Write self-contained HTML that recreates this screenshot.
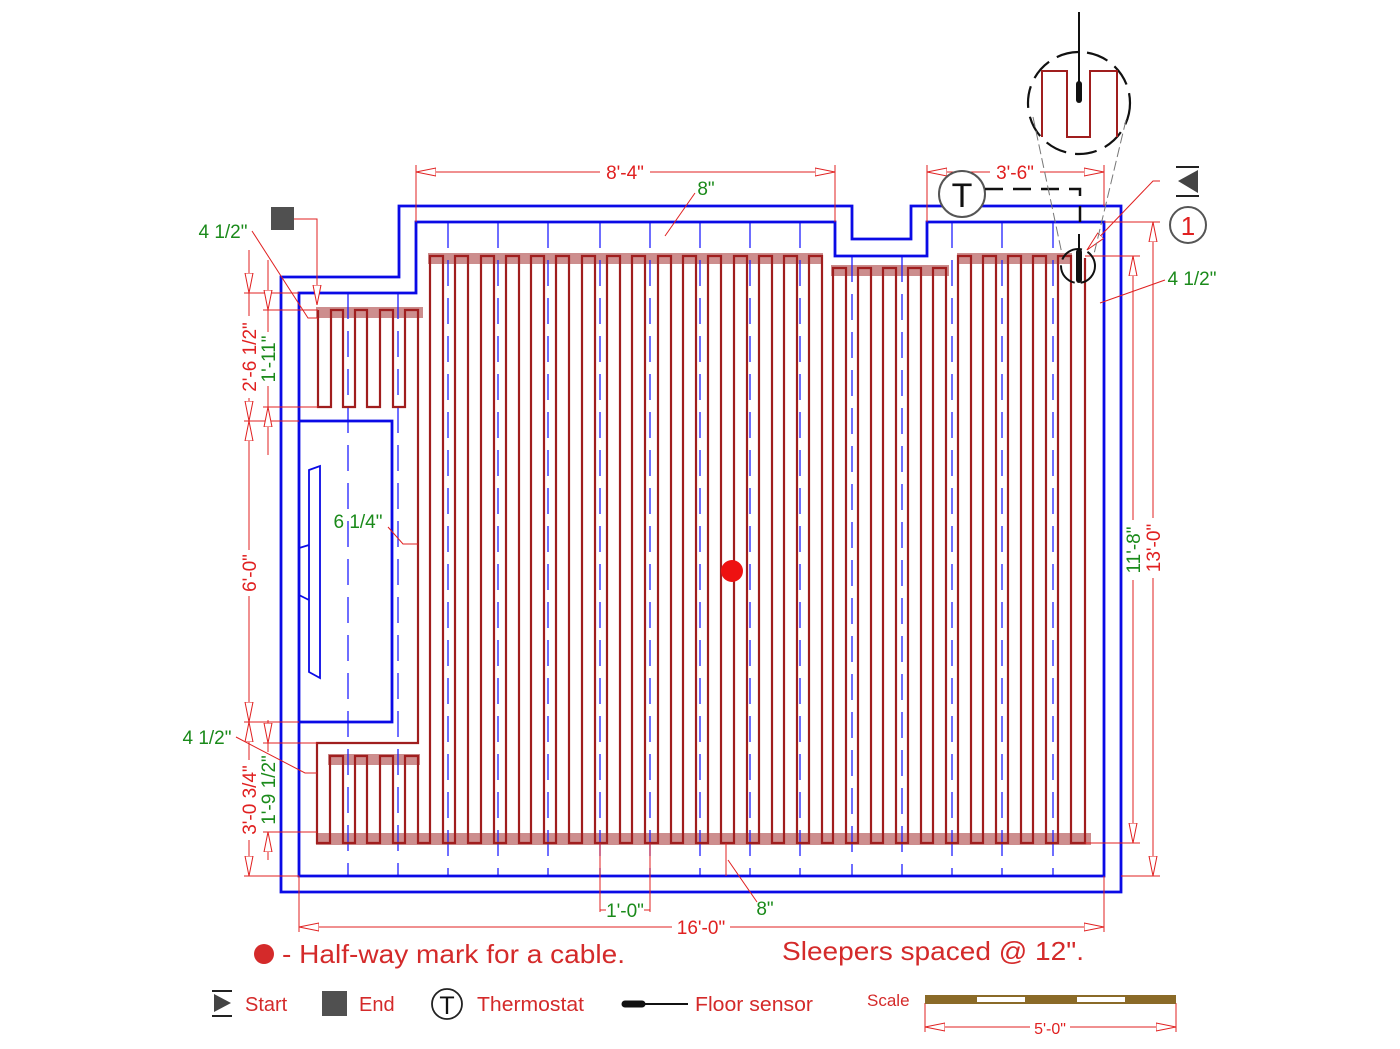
<!DOCTYPE html>
<html><head><meta charset="utf-8"><style>
html,body{margin:0;padding:0;background:#fff;}
svg{display:block;font-family:"Liberation Sans",Arial,sans-serif;}
</style></head><body>
<svg width="1400" height="1049" viewBox="0 0 1400 1049" xmlns="http://www.w3.org/2000/svg">
<defs>
<marker id="a" viewBox="0 0 20 10" refX="20" refY="5" markerWidth="20" markerHeight="10" markerUnits="userSpaceOnUse" orient="auto-start-reverse"><path d="M0,1 L20,5 L0,9 Z" fill="#fff" stroke="#e02020" stroke-width="1"/></marker>
</defs>
<g fill="#c47a7a" opacity="0.85">
<rect x="316" y="307" width="107" height="11"/>
<rect x="428" y="253" width="395" height="11"/>
<rect x="831" y="265" width="118" height="11"/>
<rect x="957" y="253" width="115" height="11"/>
<rect x="316" y="833" width="775" height="12"/>
<rect x="328" y="754" width="92" height="11"/>
</g>
<g stroke="#2020ff" stroke-width="1.3" fill="none">
<g stroke-dasharray="26 12">
<line x1="348" y1="293" x2="348" y2="876"/><line x1="398" y1="293" x2="398" y2="876"/>
<line x1="448" y1="222" x2="448" y2="876"/><line x1="498" y1="222" x2="498" y2="876"/>
<line x1="548" y1="222" x2="548" y2="876"/><line x1="600" y1="222" x2="600" y2="876"/>
<line x1="650" y1="222" x2="650" y2="876"/><line x1="700" y1="222" x2="700" y2="876"/>
<line x1="750" y1="222" x2="750" y2="876"/><line x1="800" y1="222" x2="800" y2="876"/>
<line x1="852" y1="256" x2="852" y2="876"/><line x1="902" y1="256" x2="902" y2="876"/>
<line x1="952" y1="222" x2="952" y2="876"/><line x1="1002" y1="222" x2="1002" y2="876"/>
<line x1="1053" y1="222" x2="1053" y2="876"/>
</g>
</g>
<g stroke="#0a0ae6" stroke-width="2.8" fill="none">
<path d="M281,277 H399 V206 H852 V239 H911 V206 H1121 V892 H281 Z"/>
<path d="M299,293 H416 V222 H835 V256 H927 V222 H1104 V876 H299 Z"/>
<path d="M299,421 H392 V722 H299"/>
<path d="M309,470 L320,466 L320,678 L309,672 Z M309,545 L299,548 L299,595 L309,600" stroke-width="1.8"/>
</g>
<path fill="none" stroke="#a01e1e" stroke-width="2.2" d="M318,310 V407 H331 V310 H343 V407 H355 V310 H367 V407 H380 V310 H393 V407 H405 V310 H418 V743 H317 V843 H330 V756 H343 V843 H355 V756 H367 V843 H380 V756 H393 V843 H405 V756 H418 V843 H430
V256 H443 V843 H455 V256 H468 V843 H481 V256 H494 V843 H506 V256 H519 V843 H531 V256 H544 V843 H556 V256 H569 V843 H582 V256 H595 V843 H607 V256 H620 V843 H632 V256 H645 V843 H658 V256 H671 V843 H683 V256 H696 V843 H708 V256 H721 V843 H734 V256 H747 V843 H759 V256 H772 V843 H784 V256 H797 V843 H809 V256 H822 V843
H833 V268 H846 V843 H858 V268 H871 V843 H883 V268 H896 V843 H908 V268 H921 V843 H933 V268 H946 V843
H958 V256 H971 V843 H983 V256 H996 V843 H1008 V256 H1021 V843 H1033 V256 H1046 V843 H1058 V256 H1071 V843 H1085 V258"/>
<g stroke="#e02020" stroke-width="1" fill="none">
<line x1="416" y1="165" x2="416" y2="222"/><line x1="835" y1="165" x2="835" y2="222"/>
<line x1="416" y1="172" x2="600" y2="172" marker-start="url(#a)"/><line x1="650" y1="172" x2="835" y2="172" marker-end="url(#a)"/>
<line x1="927" y1="165" x2="927" y2="222"/><line x1="1104" y1="165" x2="1104" y2="206"/>
<line x1="927" y1="172" x2="990" y2="172" marker-start="url(#a)"/><line x1="1040" y1="172" x2="1104" y2="172" marker-end="url(#a)"/>
<line x1="665" y1="236" x2="695" y2="193"/>
<line x1="1085" y1="256" x2="1140" y2="256"/><line x1="1085" y1="843" x2="1140" y2="843"/>
<line x1="1104" y1="222" x2="1160" y2="222"/><line x1="1121" y1="876" x2="1160" y2="876"/>
<line x1="1133" y1="256" x2="1133" y2="520" marker-start="url(#a)"/><line x1="1133" y1="580" x2="1133" y2="843" marker-end="url(#a)"/>
<line x1="1153" y1="222" x2="1153" y2="518" marker-start="url(#a)"/><line x1="1153" y1="578" x2="1153" y2="876" marker-end="url(#a)"/>
<path d="M1100,303 L1165,280"/>
<path d="M1160,181 H1153 L1087,250" marker-end="url(#a)"/>
<line x1="244" y1="293" x2="299" y2="293"/><line x1="244" y1="421" x2="299" y2="421"/>
<line x1="244" y1="722" x2="299" y2="722"/><line x1="244" y1="876" x2="299" y2="876"/>
<line x1="263" y1="310" x2="318" y2="310"/><line x1="263" y1="407" x2="318" y2="407"/>
<line x1="263" y1="743" x2="317" y2="743"/><line x1="263" y1="832" x2="317" y2="832"/>
<line x1="249" y1="250" x2="249" y2="293" marker-end="url(#a)"/><line x1="249" y1="293" x2="249" y2="316"/>
<line x1="249" y1="398" x2="249" y2="421" marker-end="url(#a)"/>
<line x1="249" y1="421" x2="249" y2="550" marker-start="url(#a)"/><line x1="249" y1="596" x2="249" y2="722" marker-end="url(#a)"/>
<line x1="249" y1="722" x2="249" y2="760" marker-start="url(#a)"/><line x1="249" y1="840" x2="249" y2="876" marker-end="url(#a)"/>
<line x1="268" y1="260" x2="268" y2="310" marker-end="url(#a)"/><line x1="268" y1="310" x2="268" y2="332"/>
<line x1="268" y1="386" x2="268" y2="455"/><line x1="268" y1="430" x2="268" y2="407" marker-end="url(#a)"/>
<line x1="268" y1="720" x2="268" y2="743" marker-end="url(#a)"/><line x1="268" y1="743" x2="268" y2="752"/>
<line x1="268" y1="832" x2="268" y2="860"/><line x1="268" y1="855" x2="268" y2="832" marker-end="url(#a)"/>
<path d="M252,231 L308,318 H318"/>
<path d="M236,737 L305,773 H317"/>
<path d="M388,527 L403,544 H418"/>
<path d="M293,219 H317 V305" marker-end="url(#a)"/>
<line x1="600" y1="843" x2="600" y2="912"/><line x1="650" y1="843" x2="650" y2="912"/>
<line x1="600" y1="910" x2="606" y2="910"/><line x1="644" y1="910" x2="650" y2="910"/>
<path d="M726,843 V876 M728,860 L757,902"/>
<line x1="299" y1="876" x2="299" y2="932"/><line x1="1104" y1="876" x2="1104" y2="932"/>
<line x1="299" y1="927" x2="672" y2="927" marker-start="url(#a)"/><line x1="730" y1="927" x2="1104" y2="927" marker-end="url(#a)"/>
<line x1="925" y1="1003" x2="925" y2="1032"/><line x1="1176" y1="1003" x2="1176" y2="1032"/>
<line x1="925" y1="1027" x2="1030" y2="1027" marker-start="url(#a)"/><line x1="1070" y1="1027" x2="1176" y2="1027" marker-end="url(#a)"/>
</g>
<circle cx="962" cy="194" r="23" fill="#fff" stroke="#555" stroke-width="2"/>
<text x="962" y="207" font-size="34" text-anchor="middle" fill="#111">T</text>
<path d="M985,189 H1080 V222" fill="none" stroke="#111" stroke-width="2.5" stroke-dasharray="18 10"/>
<line x1="1079" y1="234" x2="1079" y2="252" stroke="#111" stroke-width="2"/>
<line x1="1079" y1="252" x2="1079" y2="280" stroke="#111" stroke-width="6" stroke-linecap="round"/>
<circle cx="1078" cy="266" r="17" fill="none" stroke="#111" stroke-width="2" stroke-dasharray="24 6"/>
<circle cx="1079" cy="103" r="51" fill="none" stroke="#111" stroke-width="2.2" stroke-dasharray="22 9"/>
<path d="M1042,137 V71 H1067 V137 H1090 V71 H1117 V137" fill="none" stroke="#a01e1e" stroke-width="2"/>
<line x1="1079" y1="12" x2="1079" y2="82" stroke="#111" stroke-width="2"/>
<line x1="1079" y1="84" x2="1079" y2="100" stroke="#111" stroke-width="6" stroke-linecap="round"/>
<g stroke="#777" stroke-width="1" stroke-dasharray="10 4"><line x1="1033" y1="117" x2="1062" y2="254"/><line x1="1126" y1="120" x2="1094" y2="254"/></g>
<path d="M1198,170 L1178,181 L1198,193 Z" fill="#444"/>
<path d="M1176,167 H1199 M1176,196 H1199" stroke="#222" stroke-width="2"/>
<circle cx="1188" cy="225" r="18" fill="none" stroke="#555" stroke-width="2"/>
<text x="1188" y="235" font-size="26" text-anchor="middle" fill="#e02020">1</text>
<rect x="271" y="207" width="23" height="23" fill="#505050"/>
<circle cx="732" cy="571" r="11" fill="#ee1111"/>
<g font-size="19">
<text x="625" y="179" text-anchor="middle" fill="#e02020">8'-4"</text>
<text x="1015" y="179" text-anchor="middle" fill="#e02020">3'-6"</text>
<text x="706" y="195" text-anchor="middle" fill="#1a8a1a">8"</text>
<text x="1192" y="285" text-anchor="middle" fill="#1a8a1a">4 1/2"</text>
<text x="223" y="238" text-anchor="middle" fill="#1a8a1a">4 1/2"</text>
<text x="207" y="744" text-anchor="middle" fill="#1a8a1a">4 1/2"</text>
<text x="358" y="528" text-anchor="middle" fill="#1a8a1a">6 1/4"</text>
<text x="625" y="917" text-anchor="middle" fill="#1a8a1a">1'-0"</text>
<text x="765" y="915" text-anchor="middle" fill="#1a8a1a">8"</text>
<text x="701" y="934" text-anchor="middle" fill="#e02020">16'-0"</text>
<text transform="translate(1140,550) rotate(-90)" text-anchor="middle" fill="#1a8a1a">11'-8"</text>
<text transform="translate(1160,548) rotate(-90)" text-anchor="middle" fill="#e02020">13'-0"</text>
<text transform="translate(256,357) rotate(-90)" text-anchor="middle" fill="#e02020">2'-6 1/2"</text>
<text transform="translate(275,359) rotate(-90)" text-anchor="middle" fill="#1a8a1a">1'-11"</text>
<text transform="translate(256,573) rotate(-90)" text-anchor="middle" fill="#e02020">6'-0"</text>
<text transform="translate(256,800) rotate(-90)" text-anchor="middle" fill="#e02020">3'-0 3/4"</text>
<text transform="translate(275,790) rotate(-90)" text-anchor="middle" fill="#1a8a1a">1'-9 1/2"</text>
</g>
<circle cx="264" cy="954" r="10" fill="#d42a2a"/>
<text x="282" y="963" font-size="26" fill="#d42a2a" textLength="343" lengthAdjust="spacingAndGlyphs">- Half-way mark for a cable.</text>
<text x="782" y="960" font-size="26" fill="#d42a2a" textLength="302" lengthAdjust="spacingAndGlyphs">Sleepers spaced @ 12".</text>
<path d="M214,994 L231,1003 L214,1012 Z" fill="#444"/>
<path d="M212,991 H232 M212,1016 H232" stroke="#222" stroke-width="2"/>
<text x="245" y="1011" font-size="20" fill="#d42a2a">Start</text>
<rect x="322" y="991" width="25" height="25" fill="#505050"/>
<text x="359" y="1011" font-size="20" fill="#d42a2a">End</text>
<circle cx="447" cy="1004" r="15" fill="none" stroke="#222" stroke-width="1.8"/>
<text x="447" y="1014" font-size="25" text-anchor="middle" fill="#111">T</text>
<text x="477" y="1011" font-size="20" fill="#d42a2a" textLength="107" lengthAdjust="spacingAndGlyphs">Thermostat</text>
<line x1="625" y1="1004" x2="642" y2="1004" stroke="#111" stroke-width="7" stroke-linecap="round"/>
<line x1="642" y1="1004" x2="688" y2="1004" stroke="#111" stroke-width="2"/>
<text x="695" y="1011" font-size="20" fill="#d42a2a" textLength="118" lengthAdjust="spacingAndGlyphs">Floor sensor</text>
<text x="867" y="1006" font-size="17" fill="#d42a2a">Scale</text>
<rect x="925" y="995" width="251" height="9" fill="#8a6a28"/>
<rect x="977" y="997" width="48" height="5" fill="#fff"/>
<rect x="1077" y="997" width="48" height="5" fill="#fff"/>
<text x="1050" y="1034" font-size="16" text-anchor="middle" fill="#e02020">5'-0"</text>
</svg>
</body></html>
